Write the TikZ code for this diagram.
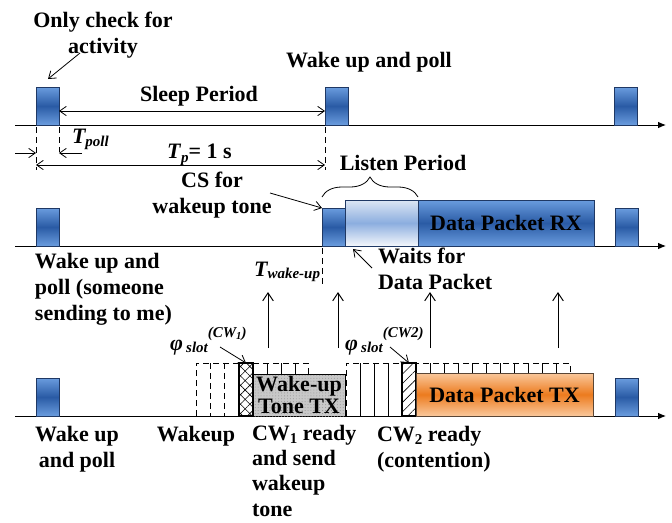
\documentclass[tikz,border=0pt]{standalone}
\usepackage{fontspec}
\setmainfont{Liberation Serif}
\usetikzlibrary{arrows.meta,patterns.meta,decorations.pathreplacing,calc}
\definecolor{bluelight}{HTML}{6A9CDE}
\definecolor{bluedark}{HTML}{2A5BA5}
\definecolor{blueedge}{HTML}{1F3864}
\definecolor{listtop}{HTML}{DCE6F4}
\definecolor{listmid}{HTML}{8CAEDF}
\definecolor{listbot}{HTML}{F4F7FC}
\definecolor{orlight}{HTML}{FAC89C}
\definecolor{ordark}{HTML}{EC7B1E}
\definecolor{oredge}{HTML}{5A4636}
\definecolor{toneg}{HTML}{C8C8C8}
\newcommand\mainfs{\fontsize{16.5}{19.5}\selectfont}
\newcommand\subfs{\fontsize{11.25}{12}\selectfont}
\newcommand\lsub[2][-2.5pt]{\raisebox{#1}{\subfs #2}}
\begin{document}
\begin{tikzpicture}[x=0.75pt,y=-0.75pt,
  every node/.style={inner sep=0pt, outer sep=0pt, font=\bfseries\mainfs},
  axisline/.style={line width=0.75pt, -{Latex[length=6pt,width=5pt]}},
  blk/.style={draw=blueedge, line width=0.75pt, top color=bluelight, bottom color=bluelight, middle color=bluedark, anchor=south west, minimum width=17.25pt, minimum height=28.5pt},
  barb/.style={line width=0.6pt, -{Straight Barb[length=5pt,width=7pt]}},
  dimline/.style={line width=0.6pt, {Straight Barb[length=5pt,width=7pt]}-{Straight Barb[length=5pt,width=7pt]}},
  dashv/.style={line width=0.6pt, dash pattern=on 4.5pt off 3pt},
  slotl/.style={line width=0.6pt},
  hatchbox/.style={draw, line width=0.9pt, anchor=south west, minimum width=10.5pt, minimum height=39.75pt},
]
\useasboundingbox (0,0) rectangle (672,522);

% ---------------- axes
\coordinate (a1s) at (15,125); \coordinate (a1e) at (666,125);
\coordinate (a2s) at (15,246); \coordinate (a2e) at (666,246);
\coordinate (a3s) at (15,416); \coordinate (a3e) at (666,416);
\draw[axisline] (a1s) -- (a1e);
\draw[axisline] (a2s) -- (a2e);
\draw[axisline] (a3s) -- (a3e);

% ---------------- row 1
\node[blk] (p11) at (36,125) {};
\node[blk] (p12) at (325,125) {};
\node[blk] (p13) at (614,125) {};

\coordinate (d1a) at (36,127); \coordinate (d1b) at (36,170);
\coordinate (d2a) at (59,127); \coordinate (d2b) at (59,152);
\coordinate (d3a) at (325,127); \coordinate (d3b) at (325,170);
\draw[dashv] (d1a) -- (d1b);
\draw[dashv] (d2a) -- (d2b);
\draw[dashv] (d3a) -- (d3b);

\coordinate (sl1) at (59,111); \coordinate (sl2) at (325,111);
\draw[dimline] (sl1) -- (sl2);
\node[anchor=base] (sleep) at (199,101) {Sleep Period};

\coordinate (tpl1) at (15,153); \coordinate (tpl2) at (36,153);
\coordinate (tpr1) at (82,153); \coordinate (tpr2) at (59,153);
\draw[barb] (tpl1) -- (tpl2);
\draw[barb] (tpr1) -- (tpr2);
\node[anchor=base west] (tpoll) at (72,143) {\itshape T\lsub{poll}};

\coordinate (tp1) at (36,165); \coordinate (tp2) at (325,165);
\draw[dimline] (tp1) -- (tp2);
\node[anchor=base west] (tplab) at (167,158) {\textit{T}\lsub[-3pt]{\itshape p}= 1 s};

\node[anchor=north, align=center] (only) at (103,12) {Only check for\\activity};
\coordinate (oc1) at (80,53); \coordinate (oc2) at (48,79);
\draw[barb] (oc1) -- (oc2);

\node[anchor=base] (wup1) at (369,67) {Wake up and poll};

% ---------------- row 2
\node[blk] (p21) at (36,246) {};
\node[blk] (cs) at (322,246) {};
\node[draw=blueedge, line width=0.6pt, top color=listtop, bottom color=listbot, middle color=listmid,
      anchor=south west, minimum width=54.75pt, minimum height=34.5pt] (lis) at (345,246) {};
\node[blk, minimum width=132pt, minimum height=34.5pt] (rx) at (418,246) {Data Packet RX};
\node[blk] (p24) at (615,246) {};

\draw[line width=0.6pt, decorate, decoration={brace, amplitude=15pt}] (cs.north west |- 0,197) -- (rx.north west |- 0,197);
\node[anchor=base] (listen) at (403,170) {Listen Period};

\node[anchor=north, align=center] (csl) at (212,172) {CS for\\wakeup tone};
\coordinate (cs1) at (270,193);
\draw[barb] (cs1) -- (cs.north west);

\coordinate (tw1) at (322,248); \coordinate (tw2) at (322,285);
\draw[dashv] (tw1) -- (tw2);
\node[anchor=base east] (twake) at (320,276) {\itshape T\lsub[-1.5pt]{wake-up}};

\node[anchor=north west, align=left] (waits) at (378,248) {Waits for\\Data Packet};
\coordinate (wt1) at (372,268); \coordinate (wt2) at (353,249);
\draw[barb] (wt1) -- (wt2);

\node[anchor=north west, align=left] (wpsome) at (35,253) {Wake up and\\poll (someone\\sending to me)};

% ---------------- up arrows
\foreach \x [count=\i] in {268,338,430,558}{
  \coordinate (up\i a) at (\x,348);
  \coordinate (up\i b) at (\x,292);
  \draw[line width=0.75pt, -{Straight Barb[length=6pt,width=8pt]}] (up\i a) -- (up\i b);
}

% ---------------- row 3
\node[blk] (p31) at (36,416) {};
\node[blk] (p34) at (615,416) {};

% group 1 (CW1)
\coordinate (g1a) at (196,416); \coordinate (g1b) at (196,363);
\coordinate (g1c) at (308,363); \coordinate (g1d) at (308,374);
\draw[dashv] (g1a) -- (g1b) -- (g1c) -- (g1d);
\foreach \x in {210,224}{\draw[dashv] (\x,363) -- (\x,416);}
\foreach \x in {267,281,295}{\draw[slotl] (\x,363) -- (\x,374);}
\node[hatchbox, pattern={Hatch[angle=45,distance=5pt,line width=0.45pt]}] (cw1) at (239,416) {};
\node[draw, line width=0.6pt, fill=toneg, anchor=south west, minimum width=69pt, minimum height=31.5pt,
      postaction={pattern={Dots[distance=2.2pt,radius=0.35pt]}, pattern color=black!45},
      align=center, font=\bfseries\fontsize{16.5}{16.5}\selectfont] (tone) at (253,416) {Wake-up\\Tone TX};

% group 2 (CW2)
\coordinate (g2a) at (346,416); \coordinate (g2b) at (346,363);
\coordinate (g2c) at (570,363); \coordinate (g2d) at (570,373);
\draw[dashv] (g2a) -- (g2b) -- (g2c) -- (g2d);
\foreach \x in {360,374,388}{\draw[slotl] (\x,363) -- (\x,416);}
\foreach \x in {430,444,...,556}{\draw[slotl] (\x,363) -- (\x,373);}
\node[hatchbox, pattern={Lines[angle=45,distance=5pt,line width=0.45pt]}] (cw2) at (402,416) {};
\node[draw=oredge, line width=0.6pt, top color=orlight, bottom color=orlight, middle color=ordark,
      anchor=south west, minimum width=132.75pt, minimum height=32.25pt] (tx) at (416,416) {Data Packet TX};

% phi labels
\node[anchor=base west] (phi1) at (170,350) {\itshape φ\hspace{2.5pt}\lsub[-2pt]{slot}\lsub[9.5pt]{(CW\raisebox{-1.5pt}{\fontsize{8}{8}\selectfont 1})}};
\coordinate (ph1a) at (220,347);
\draw[barb] (ph1a) -- (cw1.north);
\node[anchor=base west] (phi2) at (345,350) {\itshape φ\hspace{2.5pt}\lsub[-2pt]{slot}\lsub[9.5pt]{(CW2)}};
\coordinate (ph2a) at (390,347);
\draw[barb] (ph2a) -- (cw2.north);

% bottom labels
\node[anchor=north, align=center] (wp3) at (77,426) {Wake up\\and poll};
\node[anchor=base] (wk3) at (196,441) {Wakeup};
\node[anchor=north west, align=left, font=\bfseries\fontsize{16.5}{19}\selectfont] (cw1l) at (252,425) {CW\lsub[-2.5pt]{1} ready\\and send\\wakeup\\tone};
\node[anchor=north west, align=left] (cw2l) at (377,426) {CW\lsub[-2.5pt]{2} ready\\(contention)};
\end{tikzpicture}
\end{document}
